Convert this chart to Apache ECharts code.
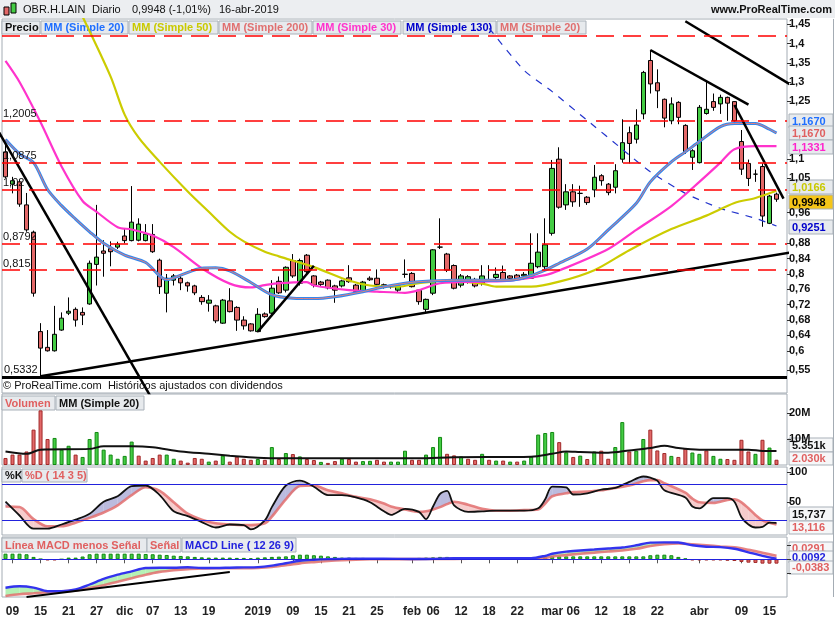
<!DOCTYPE html>
<html>
<head>
<meta charset="utf-8">
<title>OBR.H.LAIN Diario</title>
<script src="https://cdn.jsdelivr.net/npm/echarts@6.0.0/dist/echarts.min.js"></script>
<style>
  html, body { margin: 0; padding: 0; background: #fff; }
  #chart { width: 835px; height: 620px; }
</style>
</head>
<body>
<div id="chart"></div>
<script>
// ==========================================
// 1. Datos
// ==========================================
const sessionDays = [
    ['2018-11', [8, 9, 12, 13, 14, 15, 16, 19, 20, 21, 22, 23, 26, 27, 28, 29, 30]],
    ['2018-12', [3, 4, 5, 6, 7, 10, 11, 12, 13, 14, 17, 18, 19, 20, 21, 24, 27, 28, 31]],
    ['2019-01', [2, 3, 4, 7, 8, 9, 10, 11, 14, 15, 16, 17, 18, 21, 22, 23, 24, 25, 28, 29, 30, 31]],
    ['2019-02', [1, 4, 5, 6, 7, 8, 11, 12, 13, 14, 15, 18, 19, 20, 21, 22, 25, 26, 27, 28]],
    ['2019-03', [1, 4, 5, 6, 7, 8, 11, 12, 13, 14, 15, 18, 19, 20, 21, 22, 25, 26, 27, 28, 29]],
    ['2019-04', [1, 2, 3, 4, 5, 8, 9, 10, 11, 12, 15, 16]]
];

const xTickDates = ['2018-11-09', '2018-11-15', '2018-11-21', '2018-11-27', '2018-12-03', '2018-12-07', '2018-12-13', '2018-12-19',
    '2019-01-02', '2019-01-09', '2019-01-15', '2019-01-21', '2019-01-25', '2019-02-01', '2019-02-06', '2019-02-12', '2019-02-18',
    '2019-02-22', '2019-03-01', '2019-03-06', '2019-03-12', '2019-03-18', '2019-03-22', '2019-04-01', '2019-04-09', '2019-04-15'];
const xTickText = ['09', '15', '21', '27', 'dic', '07', '13', '19', '2019', '09', '15', '21', '25', 'feb', '06', '12', '18',
    '22', 'mar', '06', '12', '18', '22', 'abr', '09', '15'];

const opens = [1.118, 1.034, 1.040, 0.980, 0.909, 0.650, 0.609, 0.600, 0.654, 0.698,
    0.708, 0.700, 0.722, 0.825, 0.860, 0.866, 0.870, 0.899, 0.887, 0.888,
    0.887, 0.903, 0.836, 0.750, 0.784, 0.789, 0.777, 0.769, 0.739, 0.724,
    0.717, 0.672, 0.730, 0.713, 0.680, 0.670, 0.650, 0.696, 0.698, 0.781,
    0.758, 0.835, 0.776, 0.849, 0.795, 0.779, 0.784, 0.769, 0.769, 0.790,
    0.771, 0.755, 0.789, 0.789, 0.772, 0.767, 0.758, 0.799, 0.8015, 0.758,
    0.708, 0.750, 0.870, 0.852, 0.822, 0.771, 0.780, 0.786, 0.777, 0.785,
    0.791, 0.804, 0.795, 0.797, 0.795, 0.789, 0.819, 0.819, 0.906, 1.099,
    0.980, 1.014, 1.010, 1.000, 1.019, 1.056, 1.034, 1.026, 1.099, 1.168,
    1.151, 1.217, 1.356, 1.298, 1.255, 1.199, 1.247, 1.187, 1.104, 1.090,
    1.218, 1.249, 1.243, 1.260, 1.249, 1.145, 1.088, 1.060, 1.080, 0.932,
    1.008];
const closes = [1.053, 1.043, 0.982, 0.915, 0.750, 0.607, 0.600, 0.643, 0.685, 0.703,
    0.680, 0.693, 0.828, 0.844, 0.854, 0.858, 0.878, 0.887, 0.935, 0.930,
    0.904, 0.858, 0.767, 0.789, 0.795, 0.777, 0.769, 0.751, 0.728, 0.732,
    0.678, 0.732, 0.702, 0.680, 0.665, 0.652, 0.695, 0.689, 0.763, 0.751,
    0.8175, 0.795, 0.835, 0.806, 0.771, 0.773, 0.764, 0.758, 0.782, 0.780,
    0.755, 0.779, 0.785, 0.773, 0.766, 0.767, 0.769, 0.7995, 0.767, 0.728,
    0.734, 0.863, 0.870, 0.810, 0.763, 0.795, 0.793, 0.769, 0.795, 0.785,
    0.799, 0.784, 0.789, 0.788, 0.799, 0.828, 0.857, 0.876, 1.075, 0.974,
    1.014, 0.988, 1.010, 0.986, 1.052, 1.043, 1.012, 1.069, 1.142, 1.140,
    1.188, 1.325, 1.295, 1.277, 1.206, 1.243, 1.208, 1.119, 1.121, 1.234,
    1.229, 1.234, 1.260, 1.245, 1.199, 1.073, 1.049, 1.060, 0.951, 1.003,
    0.9948];
const lows = [1.050, 1.010, 0.975, 0.910, 0.741, 0.5332, 0.598, 0.598, 0.652, 0.693,
    0.663, 0.667, 0.720, 0.770, 0.793, 0.820, 0.865, 0.880, 0.885, 0.885,
    0.885, 0.855, 0.748, 0.700, 0.770, 0.758, 0.754, 0.745, 0.720, 0.702,
    0.672, 0.670, 0.700, 0.652, 0.655, 0.650, 0.648, 0.686, 0.695, 0.748,
    0.752, 0.790, 0.770, 0.800, 0.765, 0.768, 0.760, 0.725, 0.765, 0.777,
    0.752, 0.752, 0.782, 0.770, 0.762, 0.762, 0.752, 0.790, 0.765, 0.720,
    0.698, 0.745, 0.865, 0.805, 0.760, 0.765, 0.775, 0.765, 0.770, 0.780,
    0.785, 0.782, 0.787, 0.785, 0.785, 0.787, 0.815, 0.812, 0.900, 0.970,
    0.967, 0.975, 0.975, 0.980, 1.000, 1.030, 1.005, 1.010, 1.090, 1.088,
    1.140, 1.203, 1.270, 1.232, 1.182, 1.190, 1.190, 1.113, 1.071, 1.088,
    1.215, 1.225, 1.217, 1.199, 1.197, 1.058, 1.029, 1.040, 0.923, 0.930,
    0.988];
const highs = [1.140, 1.053, 1.045, 1.011, 0.913, 0.672, 0.654, 0.717, 0.700, 0.739,
    0.713, 0.713, 0.835, 0.980, 0.888, 0.885, 0.884, 0.919, 1.029, 0.945,
    0.930, 0.930, 0.840, 0.800, 0.800, 0.800, 0.780, 0.772, 0.745, 0.745,
    0.720, 0.735, 0.763, 0.716, 0.690, 0.672, 0.711, 0.700, 0.784, 0.7935,
    0.820, 0.852, 0.840, 0.852, 0.797, 0.782, 0.786, 0.772, 0.785, 0.823,
    0.774, 0.782, 0.794, 0.812, 0.775, 0.770, 0.775, 0.838, 0.805, 0.760,
    0.736, 0.865, 0.945, 0.855, 0.825, 0.800, 0.797, 0.790, 0.823, 0.823,
    0.817, 0.822, 0.797, 0.800, 0.805, 0.906, 0.906, 0.945, 1.097, 1.130,
    1.034, 1.034, 1.030, 1.003, 1.084, 1.060, 1.037, 1.086, 1.203, 1.184,
    1.229, 1.329, 1.382, 1.333, 1.257, 1.260, 1.250, 1.190, 1.125, 1.240,
    1.305, 1.270, 1.267, 1.262, 1.250, 1.175, 1.098, 1.072, 1.088, 1.006,
    1.012];

// volumen en millones
const volumes = [2.7, 4.0, 4.0, 5.2, 13.6, 21.0, 10.0, 10.4, 5.9, 7.4,
    4.0, 3.1, 10.0, 12.7, 5.9, 4.0, 2.4, 3.5, 9.0, 3.6,
    1.7, 2.7, 4.0, 4.0, 2.4, 1.7, 0.9, 2.7, 2.4, 1.3,
    1.7, 3.6, 1.3, 3.2, 2.4, 2.0, 2.3, 2.0, 6.9, 2.3,
    4.6, 4.2, 3.3, 2.3, 1.9, 1.2, 0.8, 1.5, 2.4, 2.3,
    1.3, 1.5, 1.6, 2.0, 1.3, 1.3, 1.3, 5.5, 2.0, 2.0,
    4.0, 6.9, 10.8, 4.3, 3.7, 3.3, 2.4, 2.0, 4.3, 2.0,
    1.7, 1.7, 1.3, 1.3, 1.7, 3.3, 11.7, 12.3, 12.7, 8.8,
    4.9, 3.1, 3.6, 2.3, 5.2, 5.5, 2.4, 6.9, 16.5, 5.2,
    5.5, 10.0, 13.6, 5.6, 4.6, 3.5, 3.1, 6.3, 4.8, 4.3,
    5.6, 3.5, 2.4, 2.3, 2.0, 9.7, 5.2, 4.3, 9.7, 6.7,
    2.03];
const volMA20 = [[0, 5.2], [3, 4.3], [5, 5.9], [12, 6.2], [14, 7.2], [18, 7.2], [21, 6.8], [25, 5.2], [29, 4.3],
    [32, 3.6], [36, 2.8], [40, 2.6], [59, 2.6], [64, 3.0], [75, 3.2], [78, 4.3], [80, 5.2], [82, 5.0], [86, 4.7],
    [89, 5.6], [92, 6.5], [94, 7.4], [96, 6.5], [99, 5.9], [106, 5.9], [108, 5.4], [110, 5.35]];

// medias móviles del precio: [índice de sesión, valor]
const ma20 = [[0, 1.150], [2, 1.113], [4, 1.09], [6, 1.02], [8, 0.978], [10, 0.943], [12, 0.91], [14, 0.88], [17, 0.849],
    [20, 0.83], [22, 0.795], [23, 0.785], [25, 0.797], [28, 0.815], [30, 0.816], [32, 0.808], [35, 0.778], [38, 0.746],
    [41, 0.737], [44, 0.736], [47, 0.741], [51, 0.754], [53, 0.763], [57, 0.776], [59, 0.78], [64, 0.784], [72, 0.784],
    [75, 0.796], [77, 0.81], [79, 0.828], [83, 0.865], [86, 0.915], [90, 0.984], [92, 1.04], [95, 1.092], [97, 1.118],
    [99, 1.145], [102, 1.184], [104, 1.192], [107, 1.192], [109, 1.177], [110, 1.167]];
const ma30 = [[0, 1.355], [2, 1.30], [5, 1.195], [8, 1.08], [11, 0.99], [13, 0.962], [16, 0.922], [18, 0.916], [21, 0.9],
    [24, 0.87], [28, 0.815], [32, 0.775], [35, 0.765], [37, 0.771], [39, 0.776], [43, 0.779], [44, 0.77], [49, 0.758],
    [53, 0.754], [57, 0.751], [59, 0.758], [62, 0.776], [68, 0.78], [72, 0.783], [77, 0.797], [79, 0.809], [86, 0.865],
    [90, 0.915], [95, 0.977], [99, 1.04], [102, 1.09], [104, 1.125], [107, 1.133], [110, 1.1331]];
const ma50 = [[11, 1.47], [15, 1.314], [17, 1.215], [19, 1.155], [22, 1.092], [26, 1.015], [29, 0.962], [32, 0.91],
    [34, 0.885], [37, 0.858], [39, 0.846], [44, 0.818], [49, 0.783], [52, 0.77], [56, 0.767], [59, 0.776], [63, 0.783],
    [68, 0.775], [70, 0.767], [75, 0.767], [79, 0.78], [84, 0.81], [89, 0.862], [95, 0.917], [100, 0.952], [104, 0.985],
    [107, 0.998], [110, 1.0166]];
const ma130 = [[69, 1.44], [74, 1.33], [78, 1.275], [83, 1.2], [88, 1.125], [92, 1.066], [97, 1.01], [102, 0.971],
    [107, 0.945], [110, 0.9251]];

// niveles horizontales y directrices dibujadas
const levelValues = [1.4172, 1.2005, 1.0875, 1.02, 0.8792, 0.815];
const levelLabels = ['', '1,2005', '1,0875', '1,02', '0,8792', '0,815'];
const supportValue = 0.5332;
const trendLines = [
    [[-1, 1.1714], [21, 0.4714]],
    [[5, 0.5339], [113, 0.8592]],
    [[36, 0.6498], [44, 0.8214]],
    [[92, 1.3834], [106, 1.2412]],
    [[104, 1.2402], [111, 0.9961]],
    [[97, 1.4581], [113, 1.282]]
];

// estocástico
const stochIdx = [0, 2, 4, 6, 8, 10, 12, 14, 16, 18, 20, 22, 24, 26, 28, 30, 32, 34, 35, 37, 38, 40, 42, 44, 46, 48, 50,
    52, 54, 55, 57, 59, 60, 61, 62, 63, 64, 66, 68, 70, 72, 74, 76, 77, 78, 80, 81, 83, 85, 87, 89, 91, 92, 93, 94, 97,
    98, 99, 101, 103, 104, 105, 106, 107, 108, 109, 110];
const stochK = [51, 28, 6, 6, 13, 21, 31, 51, 60, 77, 78, 62, 35, 27, 17, 8, 13, 12, 5, 20, 42, 78, 86, 76, 62, 62, 58,
    50, 35, 29, 39, 34, 22, 43, 64, 69, 45, 34, 35, 36, 36, 36, 40, 55, 76, 75, 63, 65, 71, 74, 84, 93, 91, 86, 70, 58,
    43, 40, 57, 57, 51, 25, 13, 8, 9, 16, 15.737];
const stochD = [43, 42, 22, 10, 10, 16, 24, 33, 45, 62, 75, 69, 50, 31, 21, 15, 13, 12, 12, 15, 26, 55, 77, 78, 70, 65, 59,
    55, 48, 43, 38, 34, 35, 38, 42, 47, 51, 46, 39, 36, 36, 37, 38, 48, 60, 65, 67, 68, 70, 74, 78, 85, 87, 87, 82, 66,
    56, 50, 49, 54, 55, 50, 40, 29, 20, 16, 13.116];

// MACD
const macdIdx = [0, 2, 4, 6, 8, 10, 12, 14, 16, 18, 20, 22, 24, 26, 28, 30, 32, 34, 36, 38, 40, 42, 44, 46, 48, 50, 52,
    56, 60, 64, 68, 72, 75, 77, 78, 80, 82, 84, 86, 88, 90, 92, 94, 96, 98, 100, 102, 104, 106, 108, 110];
const macdLine = [-0.203, -0.193, -0.202, -0.228, -0.228, -0.215, -0.18, -0.14, -0.11, -0.086, -0.062, -0.06, -0.06,
    -0.057, -0.062, -0.062, -0.06, -0.058, -0.056, -0.045, -0.028, -0.01, -0.003, 0.001, 0.003, 0.004, 0.004,
    0.003, 0.002, 0.007, 0.007, 0.007, 0.008, 0.025, 0.04, 0.055, 0.063, 0.07, 0.077, 0.084, 0.1, 0.119, 0.121, 0.12,
    0.1, 0.09, 0.087, 0.075, 0.05, 0.025, 0.004];
const macdSignal = [-0.262, -0.25, -0.243, -0.235, -0.228, -0.222, -0.205, -0.185, -0.16, -0.135, -0.11, -0.09, -0.078,
    -0.07, -0.066, -0.064, -0.064, -0.064, -0.062, -0.055, -0.042, -0.029, -0.02, -0.012, -0.006, -0.002, 0,
    0.001, 0.002, 0.003, 0.004, 0.004, 0.004, 0.01, 0.02, 0.03, 0.04, 0.048, 0.056, 0.063, 0.075, 0.095, 0.108, 0.114,
    0.108, 0.1, 0.092, 0.085, 0.068, 0.047, 0.026];
const macdHist = [0.04, 0.04, 0.04, 0.036, 0.017, 0.002, -0.007, -0.007, 0, 0.012,
    0.012, 0.02, 0.036, 0.04, 0.04, 0.04, 0.04, 0.04, 0.04, 0.04,
    0.038, 0.036, 0.033, 0.031, 0.026, 0.024, 0.021, 0.017, 0.014, 0.012,
    0.012, 0.012, 0.012, 0.01, 0.01, 0.007, 0.012, 0.014, 0.017, 0.019,
    0.021, 0.029, 0.033, 0.033, 0.029, 0.026, 0.021, 0.017, 0.012, 0.012,
    0.01, 0.01, 0.009, 0.008, 0.007, 0.006, 0.005, 0.005, 0.006, 0.01,
    0.012, 0.014, 0.017, 0.017, 0.012, 0.007, 0.004, 0.004, 0.004, 0.004,
    0.004, 0.004, 0.004, 0.004, 0.004, 0.005, 0.008, 0.014, 0.021, 0.021,
    0.021, 0.021, 0.021, 0.021, 0.021, 0.021, 0.021, 0.021, 0.021, 0.021,
    0.021, 0.021, 0.029, 0.033, 0.033, 0.029, 0.017, 0.005, -0.007, -0.007,
    -0.007, -0.007, -0.007, -0.01, -0.012, -0.019, -0.024, -0.026, -0.031, -0.031,
    -0.031];
const macdTrend = [[3, -0.2686], [32, -0.0907]];

// etiquetas de los ejes de valores
const priceTicks = [0.55, 0.6, 0.64, 0.68, 0.72, 0.76, 0.8, 0.84, 0.88, 0.96, 1.05, 1.1, 1.25, 1.3, 1.35, 1.4, 1.45];
const volTicks = [10, 20];
const stochTicks = [50, 100];
const macdTicks = [-0.1, 0, 0.1];

// ==========================================
// 2. Preparación
// ==========================================
const FONT = 'Liberation Sans, Arial, sans-serif';
const GREEN = '#44cc44', RED = '#e26868';

const dates = [];
sessionDays.forEach(([m, days]) => days.forEach(d => dates.push(m + '-' + String(d).padStart(2, '0'))));
const cats = dates.concat(['']);
const tickMap = {};
xTickDates.forEach((d, i) => { tickMap[d] = xTickText[i]; });
const showTick = (idx, val) => tickMap[val] !== undefined;

const candles = dates.map((d, i) => [opens[i], closes[i], lows[i], highs[i]]);
const volBars = volumes.map((v, i) => {
    const up = closes[i] >= (i ? closes[i - 1] : opens[i]);
    return { value: v, itemStyle: { color: up ? GREEN : RED, borderColor: up ? '#118811' : '#a02828', borderWidth: 1 } };
});
const histBars = macdHist.map(v => ({
    value: v, itemStyle: { color: v >= 0 ? GREEN : RED, borderColor: v >= 0 ? '#118811' : '#a02828', borderWidth: 1 }
}));

const pairs = (idx, vals) => idx.map((k, i) => [k, vals[i]]);
const fmtNum = v => String(+(+v).toFixed(4)).replace('.', ',');

function fillData(idx, a, b) {
    return idx.slice(0, -1).map((k, i) => [k, a[i], b[i], idx[i + 1], a[i + 1], b[i + 1]]);
}
function fillRender(upColor, downColor) {
    return function (params, api) {
        const a0 = api.value(1), b0 = api.value(2), a1 = api.value(4), b1 = api.value(5);
        const pa0 = api.coord([api.value(0), a0]), pb0 = api.coord([api.value(0), b0]);
        const pa1 = api.coord([api.value(3), a1]), pb1 = api.coord([api.value(3), b1]);
        const d0 = a0 - b0, d1 = a1 - b1;
        const poly = (pts, c) => ({ type: 'polygon', shape: { points: pts }, style: { fill: c } });
        const kids = [];
        if (d0 * d1 < 0) {
            const t = d0 / (d0 - d1);
            const px = [pa0[0] + t * (pa1[0] - pa0[0]), pa0[1] + t * (pa1[1] - pa0[1])];
            kids.push(poly([pa0, px, pb0], d0 > 0 ? upColor : downColor));
            kids.push(poly([px, pa1, pb1], d1 > 0 ? upColor : downColor));
        } else {
            kids.push(poly([pa0, pa1, pb1, pb0], d0 + d1 >= 0 ? upColor : downColor));
        }
        return { type: 'group', children: kids };
    };
}

function xAxisFor(i, labels) {
    return {
        type: 'category', gridIndex: i, data: cats, boundaryGap: true,
        axisLine: { show: false }, splitLine: { show: false },
        axisTick: { show: labels, interval: showTick, alignWithLabel: true, length: 4, lineStyle: { color: '#555' } },
        axisLabel: {
            show: labels, interval: showTick, formatter: v => tickMap[v] || '', margin: 9,
            fontFamily: FONT, fontSize: 12, fontWeight: 'bold', color: '#222'
        }
    };
}
function yAxisFor(i, min, max, ticks, fmt) {
    return {
        type: 'value', gridIndex: i, position: 'right', min, max, splitLine: { show: false },
        axisLine: { show: false },
        axisTick: { show: true, customValues: ticks, length: 4, lineStyle: { color: '#333' } },
        axisLabel: {
            show: !!fmt, customValues: ticks, formatter: fmt, margin: 2,
            fontFamily: FONT, fontSize: 11, fontWeight: 'bold', color: '#111'
        }
    };
}
const gridBox = (top, height) => ({
    left: 2, right: 48, top, height, show: true, backgroundColor: '#fff', borderColor: '#a4acb4', borderWidth: 1
});

function tag(x, y, w, h, text, color, bg, weight) {
    return {
        type: 'group', x, y, z: 100, children: [
            { type: 'rect', shape: { x: 0, y: 0, width: w, height: h }, style: { fill: bg || '#e7eaed', stroke: '#a9b1b9', lineWidth: 1 } },
            { type: 'text', x: 3, y: h / 2 + 0.5, style: { text, fill: color, font: (weight || 'bold') + ' 11px ' + FONT, verticalAlign: 'middle' } }
        ]
    };
}
function label(x, y, text, color, font, align) {
    return { type: 'text', x, y, z: 100, style: { text, fill: color, font: font || '11px ' + FONT, verticalAlign: 'middle', align: align || 'left' } };
}

const lineSeries = (name, data, color, width, xi, extra) => Object.assign({
    name, type: 'line', xAxisIndex: xi, yAxisIndex: xi, data, symbol: 'none', smooth: 0.3, clip: true,
    lineStyle: { color, width }, silent: true
}, extra || {});

// ==========================================
// 3. Gráfico
// ==========================================
const chart = echarts.init(document.getElementById('chart'));
chart.setOption({
    animation: false,
    backgroundColor: '#fff',
    textStyle: { fontFamily: FONT },
    grid: [gridBox(19, 374), gridBox(394, 71), gridBox(467, 68), gridBox(537, 60)],
    xAxis: [xAxisFor(0, false), xAxisFor(1, false), xAxisFor(2, false), xAxisFor(3, true)],
    yAxis: [
        yAxisFor(0, 0.4901, 1.4641, priceTicks, fmtNum),
        yAxisFor(1, 0, 27.3, volTicks, v => v + 'M'),
        yAxisFor(2, -4.5, 108.8, stochTicks, v => String(v)),
        yAxisFor(3, -0.2693, 0.1593, macdTicks, null)
    ],
    series: [
        {
            name: 'Precio', type: 'candlestick', xAxisIndex: 0, yAxisIndex: 0, data: candles, barWidth: 5,
            itemStyle: { color: GREEN, color0: RED, borderColor: '#000', borderColor0: '#000', borderWidth: 1 },
            markLine: {
                silent: true, symbol: ['none', 'none'], animation: false,
                data: levelValues.map((v, i) => ({
                    yAxis: v,
                    lineStyle: { color: '#ff0000', width: 1.5, type: [18, 9] },
                    label: { show: !!levelLabels[i], formatter: levelLabels[i], position: 'insideStartTop', distance: 1, color: '#111', fontSize: 11, fontFamily: FONT }
                })).concat([{
                    yAxis: supportValue,
                    lineStyle: { color: '#000', width: 3, type: 'solid' },
                    label: { show: true, formatter: '0,5332', position: 'insideStartTop', distance: 2, color: '#111', fontSize: 11, fontFamily: FONT }
                }])
            }
        },
        lineSeries('MM130', ma130, '#2233cc', 1.2, 0, { smooth: 0.2, lineStyle: { color: '#2233cc', width: 1.2, type: [7, 7] } }),
        lineSeries('MM50', ma50, '#cccc00', 2.2, 0),
        lineSeries('MM30', ma30, '#ff33cc', 2.2, 0),
        lineSeries('MM20', ma20, '#3388ee', 3, 0),
        lineSeries('MM20b', ma20, '#e08080', 1, 0),
        ...trendLines.map((t, i) => lineSeries('tl' + i, t, '#000', 2.5, 0, { smooth: false })),

        { name: 'Volumen', type: 'bar', xAxisIndex: 1, yAxisIndex: 1, data: volBars, barWidth: 4, silent: true },
        lineSeries('VolMM', volMA20, '#111', 2, 1),

        {
            name: 'fillK', type: 'custom', xAxisIndex: 2, yAxisIndex: 2, silent: true, clip: true,
            data: fillData(stochIdx, stochK, stochD), renderItem: fillRender('rgba(150,150,205,0.65)', 'rgba(240,170,170,0.6)')
        },
        lineSeries('%D', pairs(stochIdx, stochD), 'rgba(226,110,110,0.85)', 2.6, 2, {
            markLine: {
                silent: true, symbol: ['none', 'none'], label: { show: false },
                lineStyle: { color: '#2222dd', width: 1.2, type: 'solid' }, data: [{ yAxis: 80 }, { yAxis: 20 }]
            }
        }),
        lineSeries('%K', pairs(stochIdx, stochK), '#111', 1.8, 2),

        { name: 'Hist', type: 'bar', xAxisIndex: 3, yAxisIndex: 3, data: histBars, barWidth: 4, silent: true },
        {
            name: 'fillM', type: 'custom', xAxisIndex: 3, yAxisIndex: 3, silent: true, clip: true,
            data: fillData(macdIdx, macdLine, macdSignal), renderItem: fillRender('rgba(150,235,150,0.7)', 'rgba(240,170,170,0.6)')
        },
        lineSeries('Señal', pairs(macdIdx, macdSignal), 'rgba(226,110,110,0.85)', 2.6, 3, {
            markLine: {
                silent: true, symbol: ['none', 'none'], label: { show: false },
                lineStyle: { color: '#2222dd', width: 1.2, type: 'solid' }, data: [{ yAxis: 0 }]
            }
        }),
        lineSeries('MACD', pairs(macdIdx, macdLine), '#3333ee', 2.4, 3),
        lineSeries('macdTrend', macdTrend, '#000', 2, 3, { smooth: false })
    ],
    graphic: [
        // cabecera
        { type: 'rect', z: 90, shape: { x: 0, y: 0, width: 835, height: 18 }, style: { fill: '#eceef1' } },
        { type: 'rect', z: 100, shape: { x: 4, y: 7, width: 5, height: 8 }, style: { fill: RED, stroke: '#000', lineWidth: 1 } },
        { type: 'rect', z: 100, shape: { x: 11, y: 3, width: 5, height: 10 }, style: { fill: GREEN, stroke: '#000', lineWidth: 1 } },
        label(23, 10, 'OBR.H.LAIN', '#111', '11px ' + FONT),
        label(92, 10, 'Diario', '#111', '11px ' + FONT),
        label(132, 10, '0,9948 (-1,01%)', '#111', '11px ' + FONT),
        label(219, 10, '16-abr-2019', '#111', '11px ' + FONT),
        label(832, 10, 'www.ProRealTime.com', '#111', 'bold 11px ' + FONT, 'right'),
        // leyenda del precio
        tag(2, 21, 38, 13, 'Precio', '#111'),
        tag(41, 21, 87, 13, 'MM (Simple 20)', '#1f6fff'),
        tag(129, 21, 89, 13, 'MM (Simple 50)', '#c9c900'),
        tag(219, 21, 93, 13, 'MM (Simple 200)', '#e07070'),
        tag(313, 21, 88, 13, 'MM (Simple 30)', '#ff33cc'),
        tag(403, 21, 93, 13, 'MM (Simple 130)', '#0000cc'),
        tag(497, 21, 89, 13, 'MM (Simple 20)', '#e07070'),
        label(3, 386, '© ProRealTime.com  Históricos ajustados con dividendos', '#111'),
        // valores a la derecha
        tag(789, 114, 44, 14, '1,1670', '#1f6fff'),
        tag(789, 126, 44, 14, '1,1670', '#e06060'),
        tag(789, 140, 44, 14, '1,1331', '#ff22cc'),
        tag(789, 180, 44, 14, '1,0166', '#c9c900'),
        tag(789, 195, 44, 14, '0,9948', '#000', '#f5c518'),
        tag(789, 220, 44, 14, '0,9251', '#0000cc'),
        // volumen
        tag(2, 396, 53, 14, 'Volumen', '#e06060'),
        tag(56, 396, 88, 14, 'MM (Simple 20)', '#111'),
        tag(789, 438, 44, 14, '5.351k', '#111', '#f6f7f8'),
        tag(789, 452, 44, 13, '2.030k', '#e06060', '#f6f7f8'),
        // estocástico
        tag(2, 469, 19, 13, '%K', '#111'),
        tag(22, 469, 65, 13, '%D ( 14 3 5)', '#e06060'),
        tag(789, 507, 44, 14, '15,737', '#111', '#f6f7f8'),
        tag(789, 521, 44, 13, '13,116', '#e06060', '#f6f7f8'),
        // MACD
        tag(2, 538, 145, 14, 'Línea MACD menos Señal', '#e06060'),
        tag(147, 538, 34, 14, 'Señal', '#e06060'),
        tag(182, 538, 114, 14, 'MACD Line ( 12 26 9)', '#2222dd'),
        tag(789, 542, 44, 13, '0,0291', '#e06060', '#f6f7f8'),
        tag(789, 551, 44, 12, '0,0092', '#2222dd', '#f6f7f8'),
        tag(789, 561, 44, 13, '-0,0383', '#e06060', '#f6f7f8'),
        // borde exterior derecho
        { type: 'line', z: 100, shape: { x1: 833.5, y1: 19, x2: 833.5, y2: 597 }, style: { stroke: '#a4acb4', lineWidth: 1 } }
    ]
});
</script>
</body>
</html>
